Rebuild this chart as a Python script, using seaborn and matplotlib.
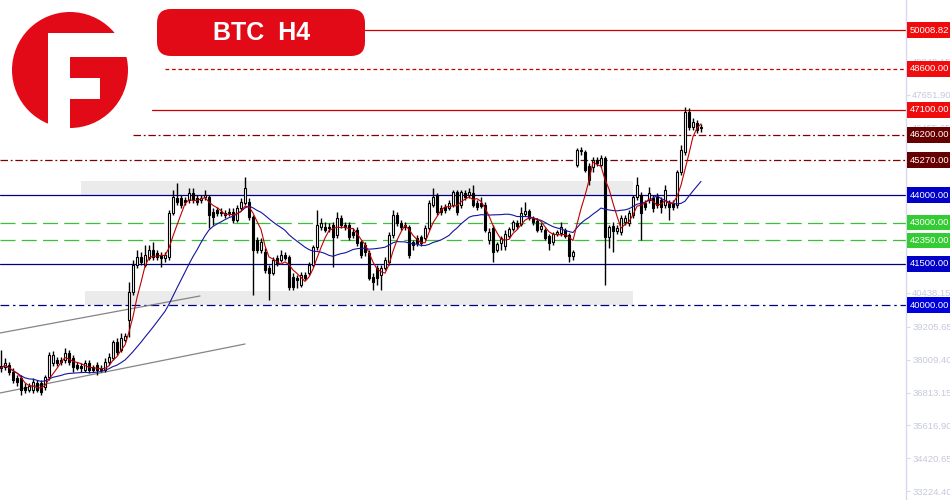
import numpy as np
import pandas as pd
import matplotlib
matplotlib.use("Agg")
import matplotlib.pyplot as plt
import matplotlib.transforms as mtransforms
from matplotlib.patches import Circle, Rectangle, FancyBboxPatch
import seaborn as sns

# BTC H4 candles (oldest first)
opens = [
    37780, 37743, 37816, 37561, 37343, 37343, 37015, 36906, 36906, 37161,
    37161, 37015, 37379, 37889, 37998, 37998, 37998, 38253, 38071, 37816,
    37780, 37634, 37889, 37743, 37816, 37707, 37634, 37925, 38071, 38653,
    38362, 38726, 39454, 40473, 41456, 41747, 41456, 41711, 42002, 41893,
    41820, 41711, 41747, 43349, 43895, 43895, 43822, 43822, 44077, 43895,
    43822, 43931, 43931, 43385, 43458, 43385, 43349, 43385, 43385, 43094,
    43531, 43713, 43749, 43203, 42366, 42002, 41929, 41347, 41165, 41711,
    41638, 41820, 41747, 41019, 40983, 40728, 41092, 41165, 41456, 42111,
    42839, 42839, 42839, 42912, 42548, 43167, 42912, 42912, 42657, 42730,
    42293, 42184, 41893, 41019, 41347, 41092, 41347, 41565, 42548, 43276,
    42985, 42912, 42839, 42293, 42439, 42475, 42439, 42803, 43640, 44004,
    43531, 43567, 43531, 43640, 44113, 43640, 44077, 44004, 44077, 43713,
    43713, 43640, 42366, 42803, 42002, 42257, 42148, 42512, 42766, 42985,
    42948, 43312, 43422, 43167, 43058, 42766, 42730, 42512, 42293, 42584,
    42621, 42730, 42548, 41784, 45096, 45606, 45569, 45060, 45023, 45278,
    45096, 45351, 42475, 42876, 42694, 42657, 43021, 42985, 43276, 43931,
    44004, 43713, 43822, 43895, 43931, 43822, 43640, 43713, 43713, 43640,
    44841, 45569, 47025, 46479, 46625, 46479,
]
highs = [
    38362, 38071, 37925, 37707, 37452, 37452, 37161, 37161, 37343, 37270,
    37270, 37452, 38289, 38326, 38107, 38107, 38435, 38362, 38180, 37925,
    37889, 37998, 37998, 37816, 37925, 37816, 38071, 38253, 38726, 38799,
    38981, 38981, 40837, 41638, 42002, 41929, 42184, 42184, 42293, 42002,
    41929, 41929, 43458, 44186, 44441, 44004, 43931, 44259, 44259, 44004,
    44004, 44186, 44004, 43531, 43567, 43531, 43458, 43531, 43531, 43640,
    43895, 44659, 43895, 43276, 42475, 42439, 42075, 41456, 41747, 41820,
    42002, 41929, 41820, 41165, 41092, 41201, 41201, 41565, 42184, 43458,
    43167, 43021, 42985, 43021, 43385, 43276, 43021, 43021, 42803, 42839,
    42366, 42293, 42002, 41165, 41456, 41456, 41747, 42657, 43458, 43385,
    43094, 43021, 42912, 42366, 42548, 42548, 42912, 43822, 44259, 44077,
    43640, 43676, 43822, 44186, 44186, 44186, 44186, 44259, 44368, 43822,
    43931, 43749, 42803, 42912, 42293, 42512, 42730, 42839, 43094, 43094,
    43567, 43749, 43494, 43240, 43167, 42985, 42803, 42584, 42657, 42730,
    43021, 42803, 42621, 42002, 45715, 45751, 45642, 45169, 45387, 45387,
    45460, 45424, 42912, 43021, 42912, 43276, 43276, 43458, 44004, 44659,
    44113, 43822, 44295, 44004, 44077, 43931, 44368, 43822, 43822, 44914,
    45824, 47207, 47171, 46807, 46734, 46588,
]
lows = [
    37561, 37634, 37452, 37161, 37052, 36724, 36797, 36833, 36797, 36833,
    36724, 36906, 37270, 37780, 37780, 37816, 37889, 37816, 37561, 37634,
    37561, 37561, 37525, 37561, 37452, 37561, 37561, 37816, 37998, 38180,
    38289, 38653, 38835, 40364, 41347, 41456, 41383, 41638, 41638, 41638,
    41383, 41565, 41638, 43276, 43640, 43531, 43640, 43713, 43713, 43640,
    43713, 43822, 42803, 42912, 43240, 43240, 43167, 43240, 42985, 43021,
    43458, 43640, 43094, 40364, 41893, 41893, 41165, 40182, 41092, 41420,
    41565, 41638, 40546, 40546, 40619, 40655, 40910, 41092, 41383, 42002,
    42730, 42657, 42657, 41383, 42439, 42803, 42730, 42366, 42439, 42148,
    41711, 41784, 40910, 40546, 40728, 40546, 41274, 41456, 42439, 42876,
    42730, 42730, 41711, 42002, 42148, 42148, 42366, 42730, 43567, 43276,
    43276, 43349, 43458, 43567, 43276, 43531, 43822, 43895, 43567, 43458,
    43531, 42657, 42220, 41565, 41929, 42002, 42002, 42439, 42694, 42766,
    42876, 43240, 43094, 42912, 42657, 42657, 42366, 42002, 42184, 42512,
    42512, 42439, 41565, 41638, 45023, 45460, 44841, 44368, 44841, 45060,
    45023, 40728, 42075, 41929, 42584, 42548, 42912, 42876, 43167, 43822,
    42366, 43458, 43713, 43385, 43531, 43349, 43531, 43094, 43458, 43531,
    44732, 45460, 46370, 46370, 46261, 46297,
]
closes = [
    37707, 37889, 37561, 37270, 37197, 36906, 36906, 37052, 37197, 36906,
    36833, 37379, 38180, 38180, 37889, 37925, 38253, 37925, 37743, 37707,
    37707, 37889, 37634, 37634, 37634, 37634, 37925, 38107, 38653, 38289,
    38799, 38872, 40473, 41456, 41747, 41565, 41820, 42002, 41747, 41747,
    41711, 41820, 43349, 43931, 43749, 43640, 43749, 44077, 43822, 43749,
    43895, 44004, 43276, 43203, 43349, 43349, 43276, 43349, 43094, 43531,
    43749, 44259, 43203, 42002, 42002, 42293, 41274, 41165, 41638, 41529,
    41820, 41711, 40655, 40655, 40910, 41092, 40983, 41456, 42111, 42912,
    42985, 42730, 42803, 42475, 43167, 42912, 42839, 42475, 42548, 42257,
    41820, 41929, 40983, 40837, 40983, 41347, 41638, 42548, 43276, 42985,
    42839, 42839, 41820, 42184, 42257, 42257, 42803, 43713, 43931, 43385,
    43385, 43458, 43713, 44113, 43385, 44113, 43931, 44113, 43640, 43567,
    43604, 42730, 42657, 41929, 42220, 42439, 42584, 42766, 43021, 42876,
    43349, 43422, 43167, 43021, 42730, 42876, 42439, 42257, 42584, 42657,
    42839, 42512, 41784, 41929, 45642, 45642, 44914, 44550, 45278, 45169,
    45351, 42475, 42839, 42694, 42803, 43167, 43167, 43349, 43931, 44368,
    43349, 43567, 44077, 43531, 43640, 43567, 44186, 43567, 43567, 44841,
    45642, 47025, 46479, 46661, 46370, 46443,
]

# horizontal levels with their price tags
level_prices = [50008.82, 48600.00, 47100.00, 46200.00, 45270.00,
                44000.00, 43000.00, 42350.00, 41500.00, 40000.00]
level_labels = ["50008.82", "48600.00", "47100.00", "46200.00", "45270.00",
                "44000.00", "43000.00", "42350.00", "41500.00", "40000.00"]

# faint price scale labels (the ones not hidden behind a tag)
scale_ticks = [48848.15, 47651.90, 46455.65, 42866.90, 40438.15, 39205.65,
               38009.40, 36813.15, 35616.90, 34420.65, 33224.40]
scale_labels = ["48848.15", "47651.90", "46455.65", "42866.90", "40438.15",
                "39205.65", "38009.40", "36813.15", "35616.90", "34420.65",
                "33224.40"]

# grey zones (price bottom, price top) and trend lines (bar, price)
zones = [(44000, 44510), (40000, 40510)]
trend_upper = ([-0.25, 49.75], [38981, 40328])
trend_lower = ([-0.25, 61.0], [36797, 38580])

title = "BTC  H4"

sns.set_theme(style="white")
plt.rcParams["font.family"] = ["Liberation Sans", "DejaVu Sans"]

df = pd.DataFrame({"open": opens, "high": highs, "low": lows, "close": closes})
df["bar"] = np.arange(len(df))
df["ma_fast"] = df["close"].rolling(5, min_periods=1).mean()
df["ma_slow"] = df["close"].rolling(21, min_periods=1).mean()

fig = plt.figure(figsize=(9.5, 5), dpi=100)
fig.patch.set_facecolor("white")
ax = fig.add_axes([0, 0, 906 / 950, 1])
ax.set_facecolor("white")
ax.set_xlim(-0.25, 226.25)
ax.set_ylim(32902, 51102)

# zones
zone_x = [(19.9, 158.0), (20.9, 158.0)]
for (lo, hi), (x0, x1) in zip(zones, zone_x):
    ax.add_patch(Rectangle((x0, lo), x1 - x0, hi - lo, fc="#ebebeb", ec="none", zorder=0))

# level lines: start bar, colour, dash pattern
red, dark, navy, green = "#cc0000", "#800000", "#000080", "#3cc03c"
level_style = [
    (91, red, "-"), (41, red, (0, (3, 2.2))), (37.75, red, "-"),
    (33, dark, (0, (6, 2.2, 1.5, 2.2))), (-0.25, dark, (0, (6, 2.2, 1.5, 2.2))),
    (-0.25, navy, "-"), (-0.25, green, (0, (12, 5))), (-0.25, green, (0, (12, 5))),
    (-0.25, navy, "-"), (-0.25, navy, (0, (7, 3, 2, 3))),
]
tag_colors = ["#f00c0c", "#f00c0c", "#f00c0c", "#660000", "#660000",
              "#0000c8", "#33cc33", "#33cc33", "#0000c8", "#0000dc"]
for price, (x0, col, ls) in zip(level_prices, level_style):
    ax.plot([x0, 226.25], [price, price], color=col, lw=0.9, linestyle=ls, zorder=1)

# trend lines
for xs, ys in (trend_upper, trend_lower):
    ax.plot(xs, ys, color="#858585", lw=0.9, zorder=1)

# candles
up = df["close"] >= df["open"]
body_lo = np.minimum(df["open"], df["close"])
body_h = (df["close"] - df["open"]).abs().clip(lower=25)
ax.vlines(df["bar"], df["low"], df["high"], color="black", lw=1.0, zorder=3)
ax.bar(df["bar"][up], body_h[up], bottom=body_lo[up], width=0.64,
       facecolor="white", edgecolor="black", linewidth=0.8, zorder=4)
ax.bar(df["bar"][~up], body_h[~up], bottom=body_lo[~up], width=0.64,
       facecolor="black", edgecolor="black", linewidth=0.8, zorder=4)

# moving averages
sns.lineplot(data=df, x="bar", y="ma_slow", ax=ax, color="#1414a0", lw=0.8, zorder=5)
sns.lineplot(data=df, x="bar", y="ma_fast", ax=ax, color="#c00000", lw=0.8, zorder=5)
ax.set_xlabel("")
ax.set_ylabel("")

# right price scale
for s in ["top", "left", "bottom"]:
    ax.spines[s].set_visible(False)
ax.spines["right"].set_color("#d8dbec")
ax.spines["right"].set_linewidth(1.0)
ax.set_xticks([])
ax.yaxis.tick_right()
ax.set_yticks(scale_ticks)
ax.set_yticklabels(scale_labels)
ax.tick_params(axis="y", length=3, width=0.8, color="#d8dbec", pad=1.5,
               labelsize=6.8, labelcolor="#c6c9dd")

trans = mtransforms.blended_transform_factory(ax.transAxes, ax.transData)
for price, lab, bg in zip(level_prices, level_labels, tag_colors):
    ax.text(1.0045, price, lab, transform=trans, ha="left", va="center",
            fontsize=6.8, color="white", clip_on=False, zorder=20,
            bbox=dict(boxstyle="square,pad=0.36", fc=bg, ec="none"))

# logo and title badge (pixel coordinates)
ov = fig.add_axes([0, 0, 1, 1])
ov.set_xlim(0, 950)
ov.set_ylim(500, 0)
ov.axis("off")
ov.patch.set_alpha(0)
logo_red = "#e20a17"
ov.add_patch(Circle((70, 70), 58, fc=logo_red, ec="none"))
ov.add_patch(Rectangle((48, 33), 22, 100, fc="white", ec="none"))
ov.add_patch(Rectangle((48, 33), 92, 24, fc="white", ec="none"))
ov.add_patch(Rectangle((70, 78), 30, 21, fc="white", ec="none"))
ov.add_patch(FancyBboxPatch((157, 9), 208, 47, boxstyle="round,pad=0,rounding_size=14",
                            fc=logo_red, ec="none"))
ov.text(262, 33, title, ha="center", va="center", color="white",
        fontsize=18, fontweight="bold", family=["Liberation Sans", "DejaVu Sans"])

fig.savefig("out.png", dpi=100)
